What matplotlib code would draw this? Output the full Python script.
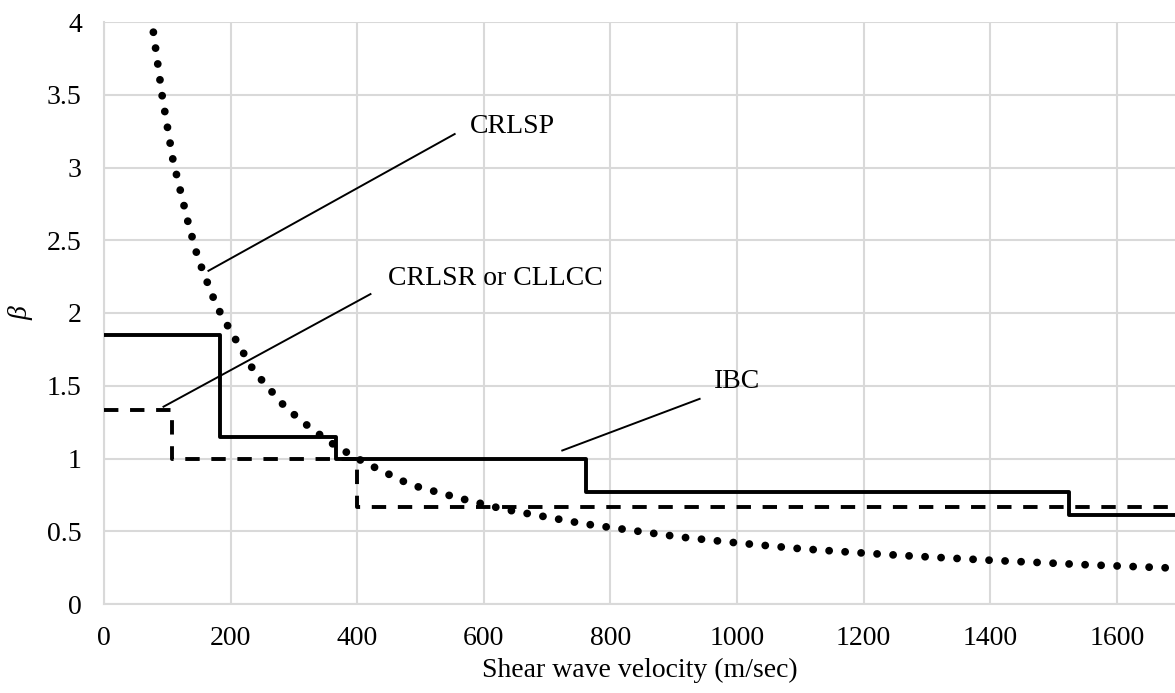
import numpy as np
import matplotlib
matplotlib.use('Agg')
import matplotlib.pyplot as plt

plt.rcParams['font.family'] = 'Liberation Serif'
plt.rcParams['font.size'] = 20

# IBC site-class steps (drawn as steps-post)
ibc_v = [0, 183, 366, 762, 1524, 1700]
ibc_b = [1.85, 1.15, 1.0, 0.77, 0.61, 0.61]

# CRLSR / CLLCC steps
crl_v = [0, 107, 400, 1700]
crl_b = [1.33, 1.0, 0.67, 0.67]

# CRLSP curve
sp_v = [78, 92, 109, 133, 147, 156, 175, 185, 237, 287, 326, 368, 413, 484,
        559, 633, 760, 911, 1000, 1100, 1200, 1275, 1403, 1550, 1700]
sp_b = [3.93, 3.49, 3.05, 2.62, 2.40, 2.29, 2.08, 1.99, 1.60, 1.35, 1.21, 1.08,
        0.97, 0.82, 0.73, 0.65, 0.55, 0.46, 0.42, 0.38, 0.35, 0.33, 0.30, 0.27, 0.245]

fig = plt.figure(figsize=(11.75, 6.93), dpi=100)
ax = fig.add_axes([104/1175, 89/693, 1 - 104/1175, (603-21)/693])

ax.step(ibc_v, ibc_b, where='post', color='black', lw=2.8, zorder=3)
ax.step(crl_v, crl_b, where='post', color='black', lw=2.8, zorder=3,
        linestyle=(0, (3.7, 3.0)))
ax.plot(sp_v, sp_b, color='black', lw=5.6, linestyle=(0, (0.01, 2.05)),
        dash_capstyle='round', zorder=4)

# callout lines and labels
ax.plot([165, 554], [2.29, 3.23], color='black', lw=1.4)
ax.text(578, 3.28, 'CRLSP', va='center', ha='left')
ax.plot([94, 421], [1.356, 2.13], color='black', lw=1.4)
ax.text(449, 2.24, 'CRLSR or CLLCC', va='center', ha='left')
ax.plot([724, 941], [1.055, 1.41], color='black', lw=1.4)
ax.text(963, 1.53, 'IBC', va='center', ha='left')

ax.set_xlim(0, 1692)
ax.set_ylim(0, 4)
ax.set_xticks(np.arange(0, 1601, 200))
ax.set_yticks([0, 0.5, 1, 1.5, 2, 2.5, 3, 3.5, 4])
ax.set_yticklabels(['0', '0.5', '1', '1.5', '2', '2.5', '3', '3.5', '4'])
ax.grid(True, color='#d9d9d9', lw=1.5)
ax.set_axisbelow(True)
for s in ['top', 'right']:
    ax.spines[s].set_visible(False)
for s in ['left', 'bottom']:
    ax.spines[s].set_color('#d9d9d9')
    ax.spines[s].set_linewidth(1.5)
ax.tick_params(axis='y', length=0, pad=16)
ax.tick_params(axis='x', length=0, pad=16)
ax.set_xlabel('Shear wave velocity (m/sec)', labelpad=5)
ax.set_ylabel('β', style='italic', rotation=90)
ax.yaxis.set_label_coords(-0.066, 0.5)

fig.savefig('out.png', dpi=100)
